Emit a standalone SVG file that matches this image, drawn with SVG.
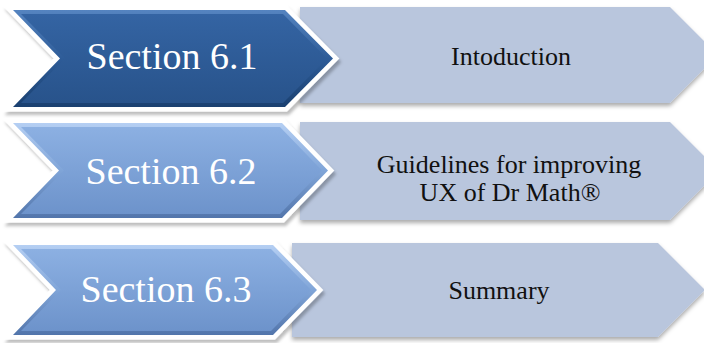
<svg xmlns="http://www.w3.org/2000/svg" width="704" height="343" viewBox="0 0 704 343">
  <defs>
    <!-- soft drop shadow shared by all shapes -->
    <filter id="shadow" x="-10%" y="-20%" width="120%" height="150%">
      <feDropShadow dx="0" dy="3" stdDeviation="2" flood-color="#000" flood-opacity="0.33"/>
    </filter>
    <filter id="halo" x="-10%" y="-20%" width="125%" height="150%">
      <feDropShadow dx="2" dy="3.5" stdDeviation="1.6" flood-color="#000" flood-opacity="0.26"/>
    </filter>
    <!-- bevel rim and body gradients -->
    <linearGradient id="rimDark" x1="0" y1="0" x2="0" y2="1">
      <stop offset="0" stop-color="#5584C0"/>
      <stop offset="0.5" stop-color="#2E5C98"/>
      <stop offset="1" stop-color="#1A4070"/>
    </linearGradient>
    <linearGradient id="bodyDark" x1="0" y1="0" x2="0" y2="1">
      <stop offset="0" stop-color="#3464A3"/>
      <stop offset="1" stop-color="#28538B"/>
    </linearGradient>
    <linearGradient id="rimLight" x1="0" y1="0" x2="0" y2="1">
      <stop offset="0" stop-color="#B5CFF3"/>
      <stop offset="0.5" stop-color="#80A5D8"/>
      <stop offset="1" stop-color="#5275AB"/>
    </linearGradient>
    <linearGradient id="bodyLight" x1="0" y1="0" x2="0" y2="1">
      <stop offset="0" stop-color="#8CB0E2"/>
      <stop offset="1" stop-color="#6D93CB"/>
    </linearGradient>
  </defs>
  <style>
    .plate { fill: #B9C6DD; filter: url(#shadow); }
    .halo { fill: #FFFFFF; stroke: #FFFFFF; stroke-width: 9; stroke-linejoin: miter; filter: url(#halo); }
    .rim-dark { fill: url(#rimDark); }
    .body-dark { fill: url(#bodyDark); }
    .rim-light { fill: url(#rimLight); }
    .body-light { fill: url(#bodyLight); }
    .sec { font-family: "Liberation Serif", "Times New Roman", serif; font-size: 38px; fill: #FFFFFF; text-anchor: middle; }
    .desc { font-family: "Liberation Serif", "Times New Roman", serif; font-size: 26px; fill: #111111; text-anchor: middle; }
  </style>

  <g id="connectors"></g>

  <!-- Row 1 -->
  <g id="row1-desc">
    <polygon class="plate" points="300,7 670,7 718,55 670,103 300,103"/>
    <text class="desc" x="511" y="65">Intoduction</text>
  </g>
  <g id="row1-section">
    <polygon class="halo" points="13,10 285,10 333,58.5 285,107 13,107 60,58.5"/>
    <polygon class="rim-dark" points="13,10 285,10 333,58.5 285,107 13,107 60,58.5"/>
    <polygon class="body-dark" points="21,14 283,14 327,58.5 283,103 21,103 65,58.5"/>
    <text class="sec" x="172" y="69">Section 6.1</text>
  </g>

  <!-- Row 2 -->
  <g id="row2-desc">
    <polygon class="plate" points="300,122 670,122 719,171 670,220 300,220"/>
    <text class="desc" x="509" y="173">Guidelines for improving</text>
    <text class="desc" x="510" y="201">UX of Dr Math®</text>
  </g>
  <g id="row2-section">
    <polygon class="halo" points="13,123 282,123 328,170.5 282,218 13,218 59,170.5"/>
    <polygon class="rim-light" points="13,123 282,123 328,170.5 282,218 13,218 59,170.5"/>
    <polygon class="body-light" points="21,127 280,127 322,170.5 280,214 21,214 64,170.5"/>
    <text class="sec" x="171" y="184">Section 6.2</text>
  </g>

  <!-- Row 3 -->
  <g id="row3-desc">
    <polygon class="plate" points="292,243 658,243 705,290 658,337 292,337"/>
    <text class="desc" x="499" y="299">Summary</text>
  </g>
  <g id="row3-section">
    <polygon class="halo" points="13,245 273,245 317,290 273,335 13,335 56,290"/>
    <polygon class="rim-light" points="13,245 273,245 317,290 273,335 13,335 56,290"/>
    <polygon class="body-light" points="21,249 271,249 311,290 271,331 21,331 61,290"/>
    <text class="sec" x="166" y="302">Section 6.3</text>
  </g>
</svg>
